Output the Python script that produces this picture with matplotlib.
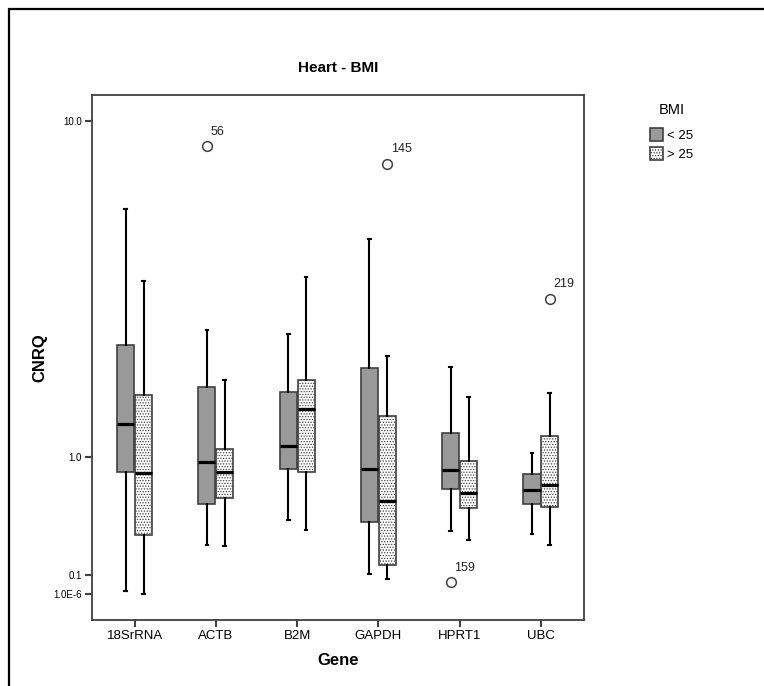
import numpy as np
import matplotlib
matplotlib.use("Agg")
import matplotlib.pyplot as plt
from matplotlib.patches import Patch, Rectangle
from matplotlib.ticker import NullLocator

plt.rcParams['font.family'] = ['Liberation Sans', 'DejaVu Sans']
plt.rcParams['hatch.linewidth'] = 0.6

# data (CNRQ)
genes = ["18SrRNA", "ACTB", "B2M", "GAPDH", "HPRT1", "UBC"]

# BMI < 25
lo_whislo = [5.3e-6, 0.179, 0.293, 0.101, 0.238, 0.224]
lo_q1 = [0.746, 0.404, 0.796, 0.282, 0.541, 0.399]
lo_med = [1.256, 0.912, 1.080, 0.800, 0.785, 0.524]
lo_q3 = [2.158, 1.615, 1.567, 1.843, 1.181, 0.717]
lo_whishi = [5.47, 2.385, 2.326, 4.458, 1.860, 1.032]
lo_fliers = [[], [8.39], [], [], [0.00112], []]
lo_flier_ids = [[], ["56"], [], [], ["159"], []]

# BMI > 25
hi_whislo = [1.0e-6, 0.175, 0.240, 0.0071, 0.200, 0.179]
hi_q1 = [0.219, 0.448, 0.750, 0.122, 0.371, 0.380]
hi_med = [0.736, 0.750, 1.389, 0.423, 0.500, 0.582]
hi_q3 = [1.535, 1.056, 1.694, 1.327, 0.925, 1.157]
hi_whishi = [3.337, 1.694, 3.430, 2.001, 1.514, 1.550]
hi_fliers = [[], [], [], [7.45], [], [2.956]]
hi_flier_ids = [[], [], [], ["145"], [], ["219"]]

groups = ["< 25", "> 25"]

# SPSS style compressed axis: piecewise in log space
anchor_log = np.array([-7.0, -6.0, -1.0, 0.0, 1.0, 1.1])
anchor_pos = np.array([0.0, 26.3, 45.0, 162.7, 499.0, 532.6])


def fwd(y):
    y = np.clip(np.asarray(y, dtype=float), 1e-12, None)
    return np.interp(np.log10(y), anchor_log, anchor_pos)


def inv(v):
    return 10 ** np.interp(np.asarray(v, dtype=float), anchor_pos, anchor_log)


fig = plt.figure(figsize=(7.64, 6.86), dpi=100)
ax = fig.add_axes([0.1198, 0.0962, 0.6446, 0.7658])
ax.set_yscale('function', functions=(fwd, inv))

dark = "#999999"
edge = "#404040"
off = 0.11
width = 0.21


def make_stats(whislo, q1, med, q3, whishi, fliers):
    return [dict(whislo=a, q1=b, med=c, q3=d, whishi=e, fliers=f)
            for a, b, c, d, e, f in zip(whislo, q1, med, q3, whishi, fliers)]


x = np.arange(len(genes))
common = dict(widths=width, showfliers=True, patch_artist=True,
              whiskerprops=dict(color="black", lw=1.5),
              capprops=dict(color="black", lw=1.5),
              medianprops=dict(color="black", lw=2.3),
              flierprops=dict(marker="o", markerfacecolor="white",
                              markeredgecolor="#404040", markersize=7,
                              markeredgewidth=1.1),
              capwidths=0.035)

b1 = ax.bxp(make_stats(lo_whislo, lo_q1, lo_med, lo_q3, lo_whishi, lo_fliers),
            positions=x - off,
            boxprops=dict(facecolor=dark, edgecolor=edge, lw=1.2), **common)
b2 = ax.bxp(make_stats(hi_whislo, hi_q1, hi_med, hi_q3, hi_whishi, hi_fliers),
            positions=x + off,
            boxprops=dict(facecolor="white", edgecolor=edge, lw=1.2,
                          hatch="......"), **common)

# case numbers for outliers
for pos, fl, ids in [(x - off, lo_fliers, lo_flier_ids), (x + off, hi_fliers, hi_flier_ids)]:
    for xi, vals, labs in zip(pos, fl, ids):
        for v, lab in zip(vals, labs):
            ax.annotate(lab, (xi, v), xytext=(2.5, 6), textcoords="offset points",
                        ha="left", va="bottom", fontsize=9, color="#222222")

ax.set_xlim(-0.53, 5.53)
ax.set_ylim(1e-7, 11.95)
ax.set_xticks(x)
ax.set_xticklabels(genes, fontsize=9.5)
ax.set_yticks([1e-6, 0.1, 1.0, 10.0])
ax.set_yticklabels(["1.0E-6", "0.1", "1.0", "10.0"], fontsize=7)
ax.yaxis.set_minor_locator(NullLocator())
ax.tick_params(axis="both", direction="out", length=5, width=1.5, color=edge, pad=2)
for s in ax.spines.values():
    s.set_color(edge)
    s.set_linewidth(1.3)

ax.set_xlabel("Gene", fontsize=12, fontweight="bold", labelpad=8)
ax.set_ylabel("CNRQ", fontsize=12, fontweight="bold", labelpad=4)
ax.set_title("Heart - BMI", fontsize=11, fontweight="bold", pad=16)

handles = [Patch(facecolor=dark, edgecolor=edge, lw=1.2),
           Patch(facecolor="white", edgecolor=edge, lw=1.2, hatch="......")]
fig.text(672 / 764, 1 - 110 / 686, "BMI", fontsize=10.5, ha="center", va="center")
leg = fig.legend(handles, groups, loc="upper left",
                 bbox_to_anchor=(0.839, 0.827), frameon=False, fontsize=9.5,
                 handlelength=1.0, handleheight=1.2,
                 handletextpad=0.3, labelspacing=0.35, borderpad=0.2)

# outer frame of the SPSS output
fig.add_artist(Rectangle((9 / 764, -0.1), 1.2, 1 - 9 / 686 + 0.1,
                         transform=fig.transFigure, fill=False,
                         edgecolor="black", lw=1.6, clip_on=False))

fig.savefig("out.png", dpi=100)
